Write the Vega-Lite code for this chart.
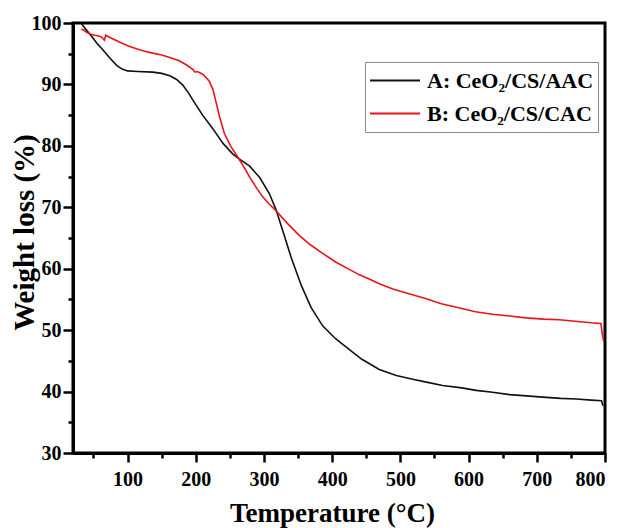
{
  "$schema": "https://vega.github.io/schema/vega-lite/v6.json",
  "width": 532,
  "height": 430,
  "autosize": {"type": "none"},
  "padding": {"left": 73, "top": 23, "right": 19, "bottom": 75},
  "background": "white",
  "config": {
    "view": {"stroke": "black", "strokeWidth": 3},
    "font": "Liberation Serif"
  },
  "datasets": {
    "tga": [
      {"s": "A: CeO₂/CS/AAC", "t": 32, "w": 100.0},
      {"s": "A: CeO₂/CS/AAC", "t": 35, "w": 99.5},
      {"s": "A: CeO₂/CS/AAC", "t": 40, "w": 98.8},
      {"s": "A: CeO₂/CS/AAC", "t": 47, "w": 97.9},
      {"s": "A: CeO₂/CS/AAC", "t": 55, "w": 96.7},
      {"s": "A: CeO₂/CS/AAC", "t": 64, "w": 95.6},
      {"s": "A: CeO₂/CS/AAC", "t": 74, "w": 94.3},
      {"s": "A: CeO₂/CS/AAC", "t": 84, "w": 93.1},
      {"s": "A: CeO₂/CS/AAC", "t": 92, "w": 92.5},
      {"s": "A: CeO₂/CS/AAC", "t": 100, "w": 92.2},
      {"s": "A: CeO₂/CS/AAC", "t": 115, "w": 92.1},
      {"s": "A: CeO₂/CS/AAC", "t": 137, "w": 92.0},
      {"s": "A: CeO₂/CS/AAC", "t": 150, "w": 91.8},
      {"s": "A: CeO₂/CS/AAC", "t": 162, "w": 91.4},
      {"s": "A: CeO₂/CS/AAC", "t": 172, "w": 90.8},
      {"s": "A: CeO₂/CS/AAC", "t": 181, "w": 89.9},
      {"s": "A: CeO₂/CS/AAC", "t": 190, "w": 88.5},
      {"s": "A: CeO₂/CS/AAC", "t": 196, "w": 87.4},
      {"s": "A: CeO₂/CS/AAC", "t": 210, "w": 85.0},
      {"s": "A: CeO₂/CS/AAC", "t": 225, "w": 82.8},
      {"s": "A: CeO₂/CS/AAC", "t": 240, "w": 80.4},
      {"s": "A: CeO₂/CS/AAC", "t": 254, "w": 78.7},
      {"s": "A: CeO₂/CS/AAC", "t": 262, "w": 78.0},
      {"s": "A: CeO₂/CS/AAC", "t": 279, "w": 76.7},
      {"s": "A: CeO₂/CS/AAC", "t": 294, "w": 74.8},
      {"s": "A: CeO₂/CS/AAC", "t": 308, "w": 72.2},
      {"s": "A: CeO₂/CS/AAC", "t": 318, "w": 69.5},
      {"s": "A: CeO₂/CS/AAC", "t": 328, "w": 66.0},
      {"s": "A: CeO₂/CS/AAC", "t": 340, "w": 61.8},
      {"s": "A: CeO₂/CS/AAC", "t": 355, "w": 57.2},
      {"s": "A: CeO₂/CS/AAC", "t": 369, "w": 53.7},
      {"s": "A: CeO₂/CS/AAC", "t": 386, "w": 50.7},
      {"s": "A: CeO₂/CS/AAC", "t": 405, "w": 48.6},
      {"s": "A: CeO₂/CS/AAC", "t": 422, "w": 47.1},
      {"s": "A: CeO₂/CS/AAC", "t": 443, "w": 45.3},
      {"s": "A: CeO₂/CS/AAC", "t": 469, "w": 43.6},
      {"s": "A: CeO₂/CS/AAC", "t": 494, "w": 42.6},
      {"s": "A: CeO₂/CS/AAC", "t": 518, "w": 42.0},
      {"s": "A: CeO₂/CS/AAC", "t": 540, "w": 41.5},
      {"s": "A: CeO₂/CS/AAC", "t": 562, "w": 41.0},
      {"s": "A: CeO₂/CS/AAC", "t": 590, "w": 40.6},
      {"s": "A: CeO₂/CS/AAC", "t": 611, "w": 40.2},
      {"s": "A: CeO₂/CS/AAC", "t": 635, "w": 39.9},
      {"s": "A: CeO₂/CS/AAC", "t": 660, "w": 39.5},
      {"s": "A: CeO₂/CS/AAC", "t": 685, "w": 39.3},
      {"s": "A: CeO₂/CS/AAC", "t": 709, "w": 39.1},
      {"s": "A: CeO₂/CS/AAC", "t": 735, "w": 38.9},
      {"s": "A: CeO₂/CS/AAC", "t": 758, "w": 38.8},
      {"s": "A: CeO₂/CS/AAC", "t": 780, "w": 38.6},
      {"s": "A: CeO₂/CS/AAC", "t": 795, "w": 38.5},
      {"s": "A: CeO₂/CS/AAC", "t": 797, "w": 37.7},
      {"s": "B: CeO₂/CS/CAC", "t": 32, "w": 99.0},
      {"s": "B: CeO₂/CS/CAC", "t": 35, "w": 98.9},
      {"s": "B: CeO₂/CS/CAC", "t": 40, "w": 98.5},
      {"s": "B: CeO₂/CS/CAC", "t": 45, "w": 98.2},
      {"s": "B: CeO₂/CS/CAC", "t": 52, "w": 98.0},
      {"s": "B: CeO₂/CS/CAC", "t": 58, "w": 97.9},
      {"s": "B: CeO₂/CS/CAC", "t": 62, "w": 97.7},
      {"s": "B: CeO₂/CS/CAC", "t": 66, "w": 97.2},
      {"s": "B: CeO₂/CS/CAC", "t": 68, "w": 98.0},
      {"s": "B: CeO₂/CS/CAC", "t": 75, "w": 97.6},
      {"s": "B: CeO₂/CS/CAC", "t": 88, "w": 96.9},
      {"s": "B: CeO₂/CS/CAC", "t": 100, "w": 96.3},
      {"s": "B: CeO₂/CS/CAC", "t": 113, "w": 95.8},
      {"s": "B: CeO₂/CS/CAC", "t": 125, "w": 95.4},
      {"s": "B: CeO₂/CS/CAC", "t": 137, "w": 95.1},
      {"s": "B: CeO₂/CS/CAC", "t": 150, "w": 94.8},
      {"s": "B: CeO₂/CS/CAC", "t": 162, "w": 94.4},
      {"s": "B: CeO₂/CS/CAC", "t": 175, "w": 93.9},
      {"s": "B: CeO₂/CS/CAC", "t": 186, "w": 93.2},
      {"s": "B: CeO₂/CS/CAC", "t": 196, "w": 92.4},
      {"s": "B: CeO₂/CS/CAC", "t": 199, "w": 92.0},
      {"s": "B: CeO₂/CS/CAC", "t": 202, "w": 92.1},
      {"s": "B: CeO₂/CS/CAC", "t": 206, "w": 91.9},
      {"s": "B: CeO₂/CS/CAC", "t": 211, "w": 91.6},
      {"s": "B: CeO₂/CS/CAC", "t": 216, "w": 91.0},
      {"s": "B: CeO₂/CS/CAC", "t": 220, "w": 90.5},
      {"s": "B: CeO₂/CS/CAC", "t": 225, "w": 89.2},
      {"s": "B: CeO₂/CS/CAC", "t": 230, "w": 87.0},
      {"s": "B: CeO₂/CS/CAC", "t": 235, "w": 84.7},
      {"s": "B: CeO₂/CS/CAC", "t": 242, "w": 82.0},
      {"s": "B: CeO₂/CS/CAC", "t": 252, "w": 79.8},
      {"s": "B: CeO₂/CS/CAC", "t": 262, "w": 78.1},
      {"s": "B: CeO₂/CS/CAC", "t": 272, "w": 76.3},
      {"s": "B: CeO₂/CS/CAC", "t": 279, "w": 74.9},
      {"s": "B: CeO₂/CS/CAC", "t": 290, "w": 73.0},
      {"s": "B: CeO₂/CS/CAC", "t": 298, "w": 71.7},
      {"s": "B: CeO₂/CS/CAC", "t": 308, "w": 70.5},
      {"s": "B: CeO₂/CS/CAC", "t": 318, "w": 69.4},
      {"s": "B: CeO₂/CS/CAC", "t": 335, "w": 67.3},
      {"s": "B: CeO₂/CS/CAC", "t": 352, "w": 65.4},
      {"s": "B: CeO₂/CS/CAC", "t": 368, "w": 63.9},
      {"s": "B: CeO₂/CS/CAC", "t": 386, "w": 62.5},
      {"s": "B: CeO₂/CS/CAC", "t": 405, "w": 61.1},
      {"s": "B: CeO₂/CS/CAC", "t": 425, "w": 59.9},
      {"s": "B: CeO₂/CS/CAC", "t": 440, "w": 59.0},
      {"s": "B: CeO₂/CS/CAC", "t": 455, "w": 58.3},
      {"s": "B: CeO₂/CS/CAC", "t": 470, "w": 57.5},
      {"s": "B: CeO₂/CS/CAC", "t": 489, "w": 56.7},
      {"s": "B: CeO₂/CS/CAC", "t": 510, "w": 56.0},
      {"s": "B: CeO₂/CS/CAC", "t": 538, "w": 55.1},
      {"s": "B: CeO₂/CS/CAC", "t": 560, "w": 54.3},
      {"s": "B: CeO₂/CS/CAC", "t": 587, "w": 53.6},
      {"s": "B: CeO₂/CS/CAC", "t": 610, "w": 53.0},
      {"s": "B: CeO₂/CS/CAC", "t": 635, "w": 52.6},
      {"s": "B: CeO₂/CS/CAC", "t": 660, "w": 52.3},
      {"s": "B: CeO₂/CS/CAC", "t": 684, "w": 52.0},
      {"s": "B: CeO₂/CS/CAC", "t": 710, "w": 51.8},
      {"s": "B: CeO₂/CS/CAC", "t": 733, "w": 51.7},
      {"s": "B: CeO₂/CS/CAC", "t": 760, "w": 51.4},
      {"s": "B: CeO₂/CS/CAC", "t": 780, "w": 51.2},
      {"s": "B: CeO₂/CS/CAC", "t": 794, "w": 51.1},
      {"s": "B: CeO₂/CS/CAC", "t": 796, "w": 49.4},
      {"s": "B: CeO₂/CS/CAC", "t": 798, "w": 48.2}
    ]
  },
  "data": {"name": "tga"},
  "layer": [
    {
      "mark": {"type": "line", "strokeWidth": 1.6, "clip": true},
      "encoding": {
        "x": {
          "field": "t", "type": "quantitative",
          "scale": {"domain": [20, 800], "nice": false, "zero": false},
          "axis": {
            "orient": "bottom",
            "values": [100, 200, 300, 400, 500, 600, 700, 800],
            "grid": false,
            "domainColor": "black", "domainWidth": 3,
            "tickColor": "black", "tickWidth": 2.5, "tickSize": 9,
            "labelFont": "Liberation Serif", "labelFontWeight": "bold", "labelFontSize": 20,
            "labelColor": "black", "labelPadding": 7,
            "title": "Temperature (°C)",
            "titleFont": "Liberation Serif", "titleFontWeight": "bold", "titleFontSize": 27,
            "titleColor": "black",
            "titleX": 259, "titleY": 68, "titleAlign": "center", "titleBaseline": "alphabetic"
          }
        },
        "y": {
          "field": "w", "type": "quantitative",
          "scale": {"domain": [30, 100], "nice": false, "zero": false},
          "axis": {
            "orient": "left",
            "values": [30, 40, 50, 60, 70, 80, 90, 100],
            "grid": false,
            "domainColor": "black", "domainWidth": 3,
            "tickColor": "black", "tickWidth": 2.5, "tickSize": 10,
            "labelFont": "Liberation Serif", "labelFontWeight": "bold", "labelFontSize": 20,
            "labelColor": "black", "labelPadding": 2,
            "title": "Weight loss (%)",
            "titleFont": "Liberation Serif", "titleFontWeight": "bold", "titleFontSize": 29,
            "titleColor": "black",
            "titleAngle": -90,
            "titleX": -40, "titleY": 209, "titleAlign": "center", "titleBaseline": "alphabetic"
          }
        },
        "color": {
          "field": "s", "type": "nominal",
          "scale": {"domain": ["A: CeO₂/CS/AAC", "B: CeO₂/CS/CAC"], "range": ["#111111", "#e8141c"]},
          "legend": {
            "title": null,
            "orient": "none",
            "legendX": 292,
            "legendY": 39,
            "padding": 4,
            "rowPadding": 4,
            "clipHeight": 29,
            "strokeColor": "#888888",
            "fillColor": "white",
            "symbolType": "stroke",
            "symbolSize": 2500,
            "symbolStrokeWidth": 2,
            "labelFont": "Liberation Serif", "labelFontWeight": "bold", "labelFontSize": 22,
            "labelColor": "black", "labelOffset": 6, "labelLimit": 300
          }
        }
      }
    },
    {
      "mark": {"type": "line", "opacity": 0},
      "encoding": {
        "x": {
          "field": "t", "type": "quantitative",
          "axis": {
            "orient": "bottom",
            "values": [50, 150, 250, 350, 450, 550, 650, 750],
            "labels": false, "domain": false, "grid": false,
            "tickColor": "black", "tickWidth": 2.5, "tickSize": 5,
            "title": null
          }
        },
        "y": {
          "field": "w", "type": "quantitative",
          "axis": {
            "orient": "left",
            "values": [35, 45, 55, 65, 75, 85, 95],
            "labels": false, "domain": false, "grid": false,
            "tickColor": "black", "tickWidth": 2.5, "tickSize": 5,
            "title": null
          }
        },
        "detail": {"field": "s", "type": "nominal"}
      }
    }
  ],
  "resolve": {"axis": {"x": "independent", "y": "independent"}}
}
